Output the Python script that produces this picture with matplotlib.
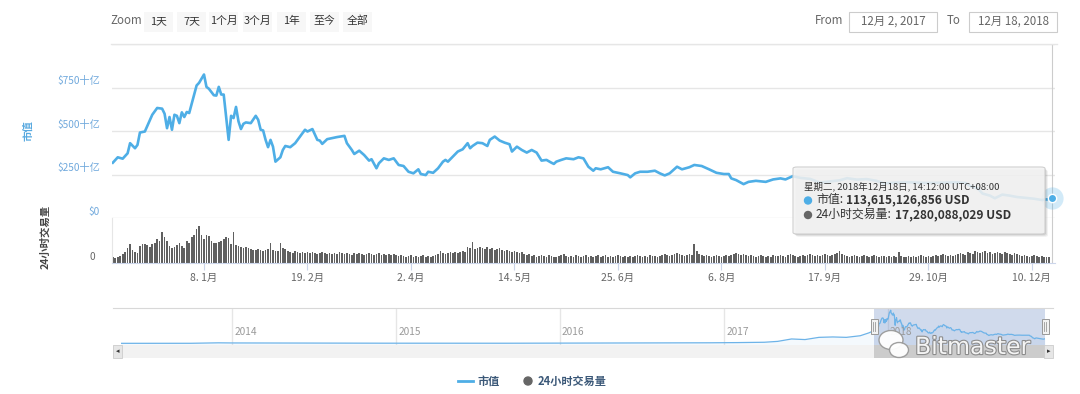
import numpy as np
import pandas as pd
import matplotlib
matplotlib.use('Agg')
import matplotlib.pyplot as plt
import matplotlib.dates as mdates
from matplotlib.patches import Rectangle, FancyBboxPatch, Ellipse
from matplotlib.lines import Line2D
import matplotlib.patheffects as pe

plt.rcParams['font.family'] = ['Noto Sans CJK SC', 'DejaVu Sans']

W, H = 1080, 394

# market cap, billions USD; day offsets from 2017-12-02
cap_day = [0, 2, 4, 6, 7, 9, 10, 11, 13, 16, 18, 20, 21, 22, 23, 24, 25, 26, 27, 28, 29, 30, 31,
           34, 35, 37, 38, 39, 41, 42, 43, 44, 45, 47, 48, 49, 50, 51, 52, 53, 54, 56, 58, 59, 60,
           61, 62, 63, 64, 65, 66, 68, 69, 70, 72, 74, 76, 78, 79, 81, 83, 84, 85, 87, 89, 91, 94,
           95, 97, 98, 100, 102, 104, 105, 107, 108, 110, 112, 114, 116, 118, 120, 122, 124, 125,
           127, 128, 130, 132, 134, 135, 136, 138, 140, 142, 144, 145, 146, 148, 150, 152, 153,
           155, 157, 159, 161, 162, 164, 166, 168, 170, 172, 174, 176, 178, 179, 180, 182, 184,
           187, 189, 191, 193, 195, 196, 198, 201, 203, 206, 209, 210, 212, 214, 217, 220, 222,
           224, 226, 229, 231, 234, 236, 239, 242, 245, 248, 250, 251, 253, 256, 258, 261, 265,
           268, 271, 273, 276, 279, 283, 287, 290, 295, 298, 302, 306, 310, 313, 318, 324, 330,
           336, 342, 346, 348, 351, 353, 356, 358, 361, 364, 367, 370, 374, 377, 380, 381]
cap_val = [319, 350, 342, 373, 431, 402, 421, 492, 498, 594, 633, 629, 600, 517, 581, 508, 594,
           588, 546, 608, 581, 610, 604, 762, 777, 825, 754, 743, 706, 704, 754, 710, 710, 450,
           588, 575, 639, 556, 512, 542, 550, 546, 588, 565, 508, 504, 450, 408, 450, 411, 325,
           350, 392, 415, 408, 431, 469, 508, 498, 512, 450, 446, 427, 454, 460, 466, 473, 431,
           392, 369, 388, 363, 331, 339, 287, 316, 344, 335, 344, 306, 300, 267, 258, 281, 254,
           248, 267, 261, 287, 325, 335, 325, 354, 383, 396, 431, 402, 415, 434, 431, 415, 450,
           469, 446, 434, 425, 383, 411, 392, 377, 392, 377, 331, 335, 319, 312, 325, 335, 344,
           339, 350, 344, 296, 273, 287, 281, 293, 267, 258, 248, 235, 258, 267, 267, 273, 258,
           246, 258, 296, 281, 293, 306, 300, 281, 261, 254, 254, 229, 219, 196, 209, 215, 209,
           223, 229, 223, 242, 232, 226, 205, 210, 218, 230, 222, 225, 215, 200, 205, 206, 203,
           204, 206, 203, 185, 172, 142, 130, 115, 136, 130, 122, 118, 112, 105, 110, 113.6]

# 24h volume, billions USD, one per day from 2017-12-02
vol_val = [18, 15, 18, 21, 27, 33, 45, 57, 39, 33,
           30, 51, 57, 57, 54, 48, 57, 60, 72, 66,
           93, 78, 66, 51, 45, 48, 54, 60, 51, 45,
           66, 60, 78, 84, 102, 113, 84, 72, 84, 81,
           66, 60, 60, 63, 66, 72, 78, 75, 57, 93,
           54, 51, 48, 45, 48, 45, 42, 39, 39, 42,
           39, 36, 39, 42, 60, 39, 36, 36, 60, 45,
           42, 36, 33, 30, 36, 33, 30, 33, 30, 33,
           30, 33, 30, 27, 30, 33, 30, 27, 30, 27,
           30, 27, 33, 30, 27, 30, 27, 24, 30, 27,
           30, 27, 24, 27, 30, 27, 24, 27, 30, 24,
           27, 24, 27, 24, 27, 24, 21, 24, 21, 18,
           21, 24, 18, 21, 18, 21, 24, 18, 21, 18,
           21, 24, 27, 36, 30, 27, 30, 33, 30, 33,
           30, 33, 36, 33, 48, 45, 63, 42, 45, 48,
           45, 42, 48, 42, 45, 39, 42, 45, 39, 36,
           39, 36, 33, 36, 33, 30, 33, 27, 24, 27,
           21, 24, 18, 21, 24, 21, 18, 24, 21, 18,
           18, 21, 24, 27, 21, 18, 21, 18, 24, 21,
           18, 21, 24, 18, 21, 18, 21, 24, 18, 21,
           24, 18, 21, 18, 21, 24, 21, 18, 21, 18,
           21, 18, 21, 24, 21, 18, 21, 18, 24, 21,
           21, 18, 21, 24, 27, 24, 21, 24, 27, 30,
           27, 24, 21, 24, 27, 24, 57, 36, 27, 24,
           21, 24, 21, 18, 21, 24, 21, 18, 21, 24,
           21, 24, 27, 30, 27, 24, 27, 24, 21, 24,
           21, 18, 21, 24, 21, 18, 21, 18, 24, 21,
           21, 24, 21, 18, 24, 27, 24, 21, 18, 21,
           24, 21, 24, 27, 24, 21, 24, 21, 24, 27,
           24, 21, 24, 27, 30, 36, 27, 24, 21, 18,
           21, 24, 21, 18, 21, 24, 21, 18, 21, 24,
           21, 18, 21, 21, 18, 21, 18, 21, 18, 33,
           21, 18, 18, 21, 18, 21, 18, 21, 24, 21,
           18, 21, 18, 21, 24, 21, 24, 27, 24, 21,
           24, 21, 24, 27, 30, 27, 24, 33, 30, 27,
           36, 33, 30, 33, 36, 30, 33, 27, 30, 33,
           30, 27, 33, 30, 27, 24, 30, 27, 24, 21,
           24, 21, 18, 21, 24, 21, 18, 21, 18, 18, 17.3]

# navigator history before the zoomed range (billions USD)
nav_hist_dates = ['2013-04-28', '2013-07-01', '2013-10-01', '2013-12-01', '2014-01-01',
                  '2014-03-01', '2014-06-01', '2014-09-01', '2014-12-01', '2015-03-01',
                  '2015-06-01', '2015-09-01', '2015-12-01', '2016-03-01', '2016-06-01',
                  '2016-09-01', '2016-12-01', '2017-02-01', '2017-04-01', '2017-05-01',
                  '2017-06-01', '2017-07-01', '2017-08-01', '2017-09-01', '2017-10-01',
                  '2017-11-01', '2017-11-20']
nav_hist_vals = [1.6, 1.0, 2.5, 14, 11, 9, 8.5, 6, 5, 4, 3.5, 4, 6, 7, 11, 13, 15, 20, 28,
                 50, 110, 95, 150, 160, 150, 190, 260]

tick_dates = ['2018-01-08', '2018-02-19', '2018-04-02', '2018-05-14', '2018-06-25',
              '2018-08-06', '2018-09-17', '2018-10-29', '2018-12-10']
cap_ticks = [0, 250, 500, 750]
cap_tick_labels = ['$0', '$250十亿', '$500十亿', '$750十亿']
nav_years = ['2014', '2015', '2016', '2017', '2018']
zoom_buttons = ['1天', '7天', '1个月', '3个月', '1年', '至今', '全部']

start = pd.Timestamp('2017-12-02')
cap_dates = (start + pd.to_timedelta(cap_day, unit='D')).to_pydatetime()
vol_dates = (start + pd.to_timedelta(np.arange(len(vol_val)), unit='D')).to_pydatetime()
last_date = cap_dates[-1]

BLUE = '#4eaee6'
GRID = '#e6e6e6'


def fx(px):
    return px / W


def fy(py):
    return 1 - py / H


fig = plt.figure(figsize=(W / 100, H / 100), dpi=100)
renderer = fig.canvas.get_renderer()

x0, x1 = 111.6, 1055
xlim = (mdates.date2num(start) - 0.5, mdates.date2num(start) + 382.4)

# main market cap pane
ax = fig.add_axes([fx(x0), fy(218.3), (x1 - x0) / W, (218.3 - 44) / H])
ax.plot(cap_dates, cap_val, color=BLUE, lw=1.9, solid_joinstyle='round', zorder=3)
ax.set_xlim(xlim)
ax.set_ylim(0, 1000)
ax.set_yticks([0, 250, 500, 750, 1000])
ax.yaxis.grid(True, color=GRID, lw=1)
ax.tick_params(left=False, bottom=False, labelleft=False, labelbottom=False)
for s in ax.spines.values():
    s.set_visible(False)
for v, lab in zip(cap_ticks, cap_tick_labels):
    ax.text(-0.0125, v + 8, lab, transform=ax.get_yaxis_transform(), ha='right', va='bottom',
            fontsize=7.3, color='#6fa8dc')
# crosshair + hovered point
ax.axvline(last_date, color='#cccccc', lw=0.8, zorder=2)
ax.plot([last_date], [cap_val[-1]], 'o', ms=16, color=BLUE, alpha=0.25, mec='none', zorder=4,
        clip_on=False)
ax.plot([last_date], [cap_val[-1]], 'o', ms=6, color=BLUE, mec='white', mew=1, zorder=5,
        clip_on=False)

# volume pane
axv = fig.add_axes([fx(x0), fy(263), (x1 - x0) / W, (263 - 218.3) / H])
axv.bar(vol_dates, vol_val, width=0.68, color='#606060', zorder=2)
axv.axvline(last_date, color='#cccccc', lw=0.8, zorder=1)
axv.set_xlim(xlim)
axv.set_ylim(0, 135)
axv.set_yticks([])
for s in ['top', 'right']:
    axv.spines[s].set_visible(False)
axv.spines['left'].set_color(GRID)
axv.spines['bottom'].set_color('#ccd6eb')
tds = pd.to_datetime(tick_dates)
axv.set_xticks(tds.to_pydatetime())
axv.set_xticklabels([f'{d.day}. {d.month}月' for d in tds])
axv.tick_params(axis='x', length=5, color='#ccd6eb', labelsize=7.5, labelcolor='#666666', pad=2)
axv.text(-0.017, 2, '0', transform=axv.get_yaxis_transform(), ha='right', va='bottom',
         fontsize=7.3, color='#666666')

# axis titles
fig.text(fx(28), fy(131), '市值', rotation=90, ha='center', va='center', fontsize=7.5,
         color='#5aaae0', fontweight='bold')
fig.text(fx(45), fy(237), '24小时交易量', rotation=90, ha='center', va='center', fontsize=7.5,
         color='#444444', fontweight='bold')

# navigator
nx0, nx1 = 121, 1045
axn = fig.add_axes([fx(nx0), fy(345), (nx1 - nx0) / W, (345 - 308) / H])
nav_dates = list(pd.to_datetime(nav_hist_dates).to_pydatetime()) + list(cap_dates)
nav_vals = list(nav_hist_vals) + list(cap_val)
axn.fill_between(nav_dates, nav_vals, -40, color='#7cb5ec', alpha=0.08, lw=0)
axn.plot(nav_dates, nav_vals, color='#6db3e8', lw=0.9)
axn.set_xlim(mdates.date2num(pd.Timestamp('2013-04-28')), mdates.date2num(last_date))
axn.set_ylim(-40, 880)
axn.set_xticks([])
axn.set_yticks([])
for s in axn.spines.values():
    s.set_visible(False)
for yr in nav_years:
    d = pd.Timestamp(yr + '-01-01')
    axn.axvline(d, color=GRID, lw=1, zorder=0)
    axn.text(d + pd.Timedelta(days=5), 290, yr, fontsize=7.3, color='#9a9a9a', va='center')
axn.axvspan(start, last_date, color='#6685c2', alpha=0.3, lw=0)

# navigator top outline, scrollbar
fig.add_artist(Line2D([fx(113), fx(1053)], [fy(308), fy(308)], color='#d8d8d8', lw=0.8))
fig.add_artist(Rectangle((fx(113), fy(358)), (1053 - 113) / W, 13 / H, color='#f2f2f2', lw=0))
nlim = axn.get_xlim()
sel0 = nx0 + (mdates.date2num(start) - nlim[0]) / (nlim[1] - nlim[0]) * (nx1 - nx0)
fig.add_artist(Rectangle((fx(sel0), fy(358)), (nx1 - sel0) / W, 13 / H, color='#cccccc', lw=0))
for bx, arrow in [(113, '◂'), (1044, '▸')]:
    fig.add_artist(Rectangle((fx(bx), fy(358)), 9 / W, 13 / H, facecolor='#e6e6e6',
                             edgecolor='#cccccc', lw=0.6))
    fig.text(fx(bx + 4.5), fy(351.5), arrow, ha='center', va='center', fontsize=5,
             color='#333333', family='DejaVu Sans')
for hx in [sel0, nx1]:
    fig.add_artist(Rectangle((fx(hx - 3.5), fy(334)), 7 / W, 15 / H, facecolor='#f2f2f2',
                             edgecolor='#999999', lw=0.7))
    for dx in [-1, 1]:
        fig.add_artist(Line2D([fx(hx + dx), fx(hx + dx)], [fy(322), fy(331)], color='#999999',
                              lw=0.6))

# watermark
for cx, cy, rw, rh in [(891, 340, 24, 19), (899, 350, 19, 15)]:
    fig.add_artist(Ellipse((fx(cx), fy(cy)), rw / W, rh / H, facecolor='white',
                           edgecolor='#9a9a9a', lw=1.0, alpha=0.95))
fig.text(fx(915), fy(347), 'Bitmaster', fontsize=17, color='#f4f4f4', va='center', ha='left',
         family='DejaVu Sans',
         path_effects=[pe.withStroke(linewidth=1.6, foreground='#8c8c8c')])

# legend
fig.add_artist(Line2D([fx(458), fx(473)], [fy(381), fy(381)], color=BLUE, lw=2))
fig.text(fx(478), fy(381), '市值', fontsize=8, fontweight='bold', color='#3b5878', va='center')
fig.add_artist(Ellipse((fx(528), fy(381)), 8 / W, 8 / H, color='#666666'))
fig.text(fx(538), fy(381), '24小时交易量', fontsize=8, fontweight='bold', color='#3b5878',
         va='center')

# top controls
fig.text(fx(110), fy(21), 'Zoom', fontsize=8.3, color='#666666', va='center')
btn_x = [144, 177, 209, 243, 277, 310, 343]
for bx, lab in zip(btn_x, zoom_buttons):
    fig.add_artist(Rectangle((fx(bx), fy(32)), 29 / W, 20 / H, color='#f7f7f7', lw=0))
    fig.text(fx(bx + 14.5), fy(21), lab, fontsize=7.8, color='#333333', ha='center', va='center')
fig.text(fx(815), fy(21), 'From', fontsize=8.3, color='#666666', va='center')
fig.text(fx(947), fy(21), 'To', fontsize=8.3, color='#666666', va='center')
for bx, bw, lab in [(849, 88, '12月 2, 2017'), (969, 88, '12月 18, 2018')]:
    fig.add_artist(Rectangle((fx(bx), fy(32)), bw / W, 20 / H, facecolor='white',
                             edgecolor='#cccccc', lw=0.8))
    fig.text(fx(bx + bw / 2), fy(21.5), lab, fontsize=8.3, color='#666666', ha='center',
             va='center')
fig.add_artist(Line2D([fx(111), fx(1057)], [fy(44), fy(44)], color=GRID, lw=1))

# tooltip
tx0, ty0, tx1, ty1 = 793, 167, 1045, 234
for k, a in [(3, 0.05), (2, 0.07), (1, 0.09)]:
    fig.add_artist(FancyBboxPatch((fx(tx0 + k), fy(ty1 + k)), (tx1 - tx0) / W, (ty1 - ty0) / H,
                                  boxstyle='round,pad=0,rounding_size=0.004',
                                  facecolor='black', alpha=a, lw=0))
fig.add_artist(FancyBboxPatch((fx(tx0), fy(ty1)), (tx1 - tx0) / W, (ty1 - ty0) / H,
                              boxstyle='round,pad=0,rounding_size=0.004',
                              facecolor=(0.97, 0.97, 0.97, 0.86), edgecolor='#cfcfcf', lw=0.8))
fig.text(fx(804), fy(186), '星期二, 2018年12月18日, 14:12:00 UTC+08:00', fontsize=6.8,
         color='#333333', va='center')


def tip_row(py, dot_color, label, value):
    fig.add_artist(Ellipse((fx(808), fy(py + 0.5)), 7 / W, 7 / H, color=dot_color))
    t = fig.text(fx(816), fy(py), label, fontsize=8.6, color='#333333', va='center')
    bb = t.get_window_extent(renderer)
    fig.text(bb.x1 / W + 3 / W, fy(py), value, fontsize=8.6, fontweight='bold',
             color='#333333', va='center')


tip_row(200, BLUE, '市值:', '113,615,126,856 USD')
tip_row(214.5, '#666666', '24小时交易量:', '17,280,088,029 USD')

fig.savefig('out.png', dpi=100)
